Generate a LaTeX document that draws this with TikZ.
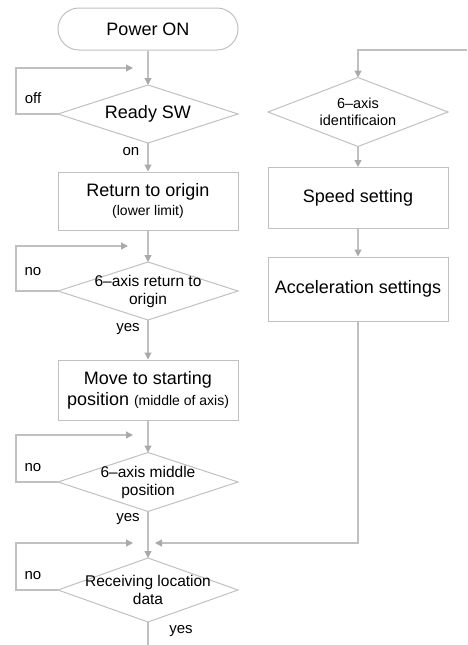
\documentclass[tikz,border=0pt]{standalone}
\usepackage{fontspec}
\setmainfont{Liberation Sans}
\usepackage{tikz}
\usepackage{xcolor}
\usetikzlibrary{arrows.meta,shapes.geometric}
\definecolor{lgray}{RGB}{192,192,192}
\definecolor{tgray}{RGB}{170,170,170}

\begin{document}
\begin{tikzpicture}[x=1pt,y=-1pt,
  line/.style={draw=lgray,line width=1.2pt},
  arr/.style={line,-{Triangle[length=7pt,width=7pt,color=tgray]}},
  box/.style={draw=lgray,line width=1pt,minimum width=180pt,inner sep=0pt,align=center,font=\fontsize{18}{21}\selectfont},
  dia/.style={diamond,draw=lgray,line width=1pt,minimum width=180pt,inner sep=0pt,outer sep=0pt},
  dtxt/.style={align=center,font=\fontsize{15.5}{18}\selectfont},
  lbl/.style={font=\fontsize{15}{17}\selectfont}]
\useasboundingbox (0,0) rectangle (467,645);

% left column
\node[box,rounded corners=21pt,minimum height=42pt] (pwr) at (148,29) {Power ON};
\node[dia,minimum height=58pt,label={[dtxt,font=\fontsize{18}{21}\selectfont]center:Ready SW}] (rdy) at (148,114) {};
\node[box,minimum height=58pt] (ret) at (148,201) {Return to origin\\[-2pt]{\fontsize{14}{16}\selectfont (lower limit)}};
\node[dia,minimum height=58pt,label={[dtxt]center:{6--axis return to\\origin}}] (rdia) at (148,291) {};
\node[box,minimum height=60pt] (mov) at (148,390) {Move to starting\\position {\fontsize{14}{16}\selectfont(middle of axis)}};
\node[dia,minimum height=59pt,label={[dtxt]center:{6--axis middle\\position}}] (mdia) at (148,482) {};
\node[dia,minimum height=64pt,label={[dtxt]center:{Receiving location\\data}}] (rcv) at (148,590) {};

% right column
\node[dia,minimum height=69pt,label={[dtxt,font=\fontsize{14.5}{17}\selectfont]center:{6--axis\\identificaion}}] (idn) at (358,112) {};
\node[box,minimum height=61pt] (spd) at (358,198) {Speed setting};
\node[box,minimum height=64pt] (acc) at (358,289) {Acceleration settings};

\coordinate (in1) at (133,68);
\coordinate (in2) at (128,246);
\coordinate (in3) at (133,435);
\coordinate (in4) at (133,543);
\coordinate (in4r) at (155,543);
\coordinate (top) at (467,50);
\coordinate (out) at (148,645);

\draw[arr] (pwr) -- (rdy);
\draw[arr] (rdy) -- (ret);
\draw[arr] (ret) -- (rdia);
\draw[arr] (rdia) -- (mov);
\draw[arr] (mov) -- (mdia);
\draw[arr] (mdia) -- (rcv);
\draw[line] (rcv) -- (out);

\draw[arr] (rdy.west) -- ++(-42,0) |- (in1);
\draw[arr] (rdia.west) -- ++(-42,0) |- (in2);
\draw[arr] (mdia.west) -- ++(-42,0) |- (in3);
\draw[arr] (rcv.west) -- ++(-42,0) |- (in4);

\draw[arr] (top) -| (idn.north);
\draw[arr] (idn) -- (spd);
\draw[arr] (spd) -- (acc);
\draw[arr] (acc.south) |- (in4r);

\node[lbl] (off) at (33,98) {off};
\node[lbl] (on) at (131,152) {on};
\node[lbl] (no1) at (33,272) {no};
\node[lbl] (yes1) at (128,329) {yes};
\node[lbl] (no2) at (33,468) {no};
\node[lbl] (yes2) at (128,519) {yes};
\node[lbl] (no3) at (33,576) {no};
\node[lbl] (yes3) at (181,631) {yes};

\end{tikzpicture}
\end{document}
